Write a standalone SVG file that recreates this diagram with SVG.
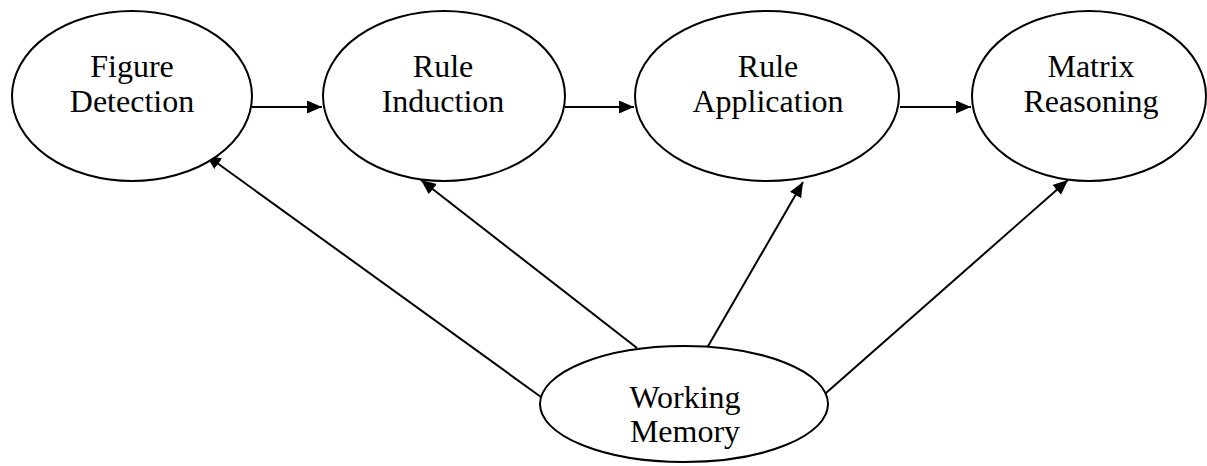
<svg xmlns="http://www.w3.org/2000/svg" width="1207" height="466" viewBox="0 0 1207 466">
  <style>
    .node { fill: #ffffff; stroke: #000000; stroke-width: 2; }
    .label { font-family: "Liberation Serif", "Times New Roman", serif; font-size: 32px; fill: #000000; text-anchor: middle; }
    .edge { fill: none; stroke: #000000; stroke-width: 2; }
  </style>
  <defs>
    <marker id="arrow" markerUnits="userSpaceOnUse" markerWidth="16" markerHeight="14" refX="15" refY="6.5" orient="auto">
      <path d="M0,0 L15,6.5 L0,13 z" fill="#000000"/>
    </marker>
  </defs>
  <rect x="0" y="0" width="1207" height="466" fill="#ffffff"/>
  <g id="connectors">
    <line class="edge" x1="252" y1="107" x2="322" y2="107" marker-end="url(#arrow)"/>
    <line class="edge" x1="565" y1="107" x2="634" y2="107" marker-end="url(#arrow)"/>
    <line class="edge" x1="900" y1="107" x2="971" y2="107" marker-end="url(#arrow)"/>
    <line class="edge" x1="541" y1="397" x2="206" y2="155" marker-end="url(#arrow)"/>
    <line class="edge" x1="637" y1="348" x2="421" y2="180" marker-end="url(#arrow)"/>
    <line class="edge" x1="707" y1="348" x2="803" y2="182" marker-end="url(#arrow)"/>
    <line class="edge" x1="826" y1="393" x2="1068" y2="180" marker-end="url(#arrow)"/>
  </g>
  <g id="figure-detection">
    <ellipse class="node" cx="132" cy="96" rx="120" ry="85"/>
    <text class="label" x="132" y="77">Figure</text>
    <text class="label" x="132" y="112">Detection</text>
  </g>
  <g id="rule-induction">
    <ellipse class="node" cx="444" cy="96" rx="121" ry="85"/>
    <text class="label" x="443" y="77">Rule</text>
    <text class="label" x="443" y="112">Induction</text>
  </g>
  <g id="rule-application">
    <ellipse class="node" cx="767" cy="96" rx="132" ry="85"/>
    <text class="label" x="768" y="77">Rule</text>
    <text class="label" x="768" y="112">Application</text>
  </g>
  <g id="matrix-reasoning">
    <ellipse class="node" cx="1089" cy="96" rx="117" ry="85"/>
    <text class="label" x="1091" y="77">Matrix</text>
    <text class="label" x="1091" y="112">Reasoning</text>
  </g>
  <g id="working-memory">
    <ellipse class="node" cx="684" cy="404" rx="144" ry="58"/>
    <text class="label" x="685" y="408">Working</text>
    <text class="label" x="685" y="442">Memory</text>
  </g>
</svg>
